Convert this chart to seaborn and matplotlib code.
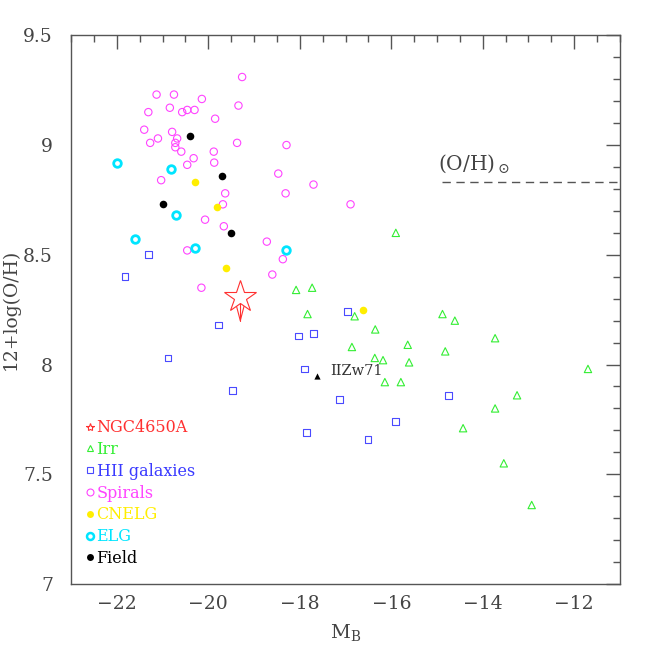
import numpy as np
import pandas as pd
import matplotlib
matplotlib.use("Agg")
import matplotlib.pyplot as plt
from matplotlib.lines import Line2D
from matplotlib.ticker import MultipleLocator
import seaborn as sns

sns.set_theme(style="white")
plt.rcParams["font.family"] = ["DejaVu Serif"]
plt.rcParams["mathtext.fontset"] = "dejavuserif"

# ---- data (M_B, 12+log(O/H)) ----
spiral_mb = [-19.26, -21.13, -20.75, -20.14, -21.31, -20.84, -20.57, -20.46, -20.30, -19.34,
             -19.85, -21.40, -20.79, -21.10, -21.27, -20.68, -20.72, -20.72, -20.59, -19.37,
             -19.88, -18.29, -20.32, -19.87, -20.46, -21.03, -18.47, -19.63, -18.31, -19.68,
             -17.70, -16.89, -20.07, -19.66, -18.72, -20.46, -18.37, -18.60, -20.15]
spiral_oh = [9.31, 9.23, 9.23, 9.21, 9.15, 9.17, 9.15, 9.16, 9.16, 9.18,
             9.12, 9.07, 9.06, 9.03, 9.01, 9.03, 9.01, 8.99, 8.97, 9.01,
             8.97, 9.00, 8.94, 8.92, 8.91, 8.84, 8.87, 8.78, 8.78, 8.73,
             8.82, 8.73, 8.66, 8.63, 8.56, 8.52, 8.48, 8.41, 8.35]

field_mb = [-20.41, -19.70, -21.00, -19.50]
field_oh = [9.04, 8.86, 8.73, 8.60]

elg_mb = [-22.00, -20.81, -20.70, -21.60, -20.30, -18.31]
elg_oh = [8.92, 8.89, 8.68, 8.57, 8.53, 8.52]

cnelg_mb = [-20.30, -19.82, -19.61, -16.62]
cnelg_oh = [8.83, 8.72, 8.44, 8.25]

hii_mb = [-21.82, -21.30, -19.78, -20.88, -19.47, -18.02, -17.70, -16.95, -17.90, -17.14,
          -17.86, -16.51, -15.90, -14.75]
hii_oh = [8.40, 8.50, 8.18, 8.03, 7.88, 8.13, 8.14, 8.24, 7.98, 7.84,
          7.69, 7.66, 7.74, 7.86]

irr_mb = [-18.08, -17.73, -17.83, -16.80, -16.35, -16.86, -16.36, -16.18, -16.14, -15.79,
          -15.90, -15.64, -15.61, -14.88, -14.61, -14.82, -13.73, -13.25, -13.73, -14.43,
          -13.54, -12.93, -11.70]
irr_oh = [8.34, 8.35, 8.23, 8.22, 8.16, 8.08, 8.03, 8.02, 7.92, 7.92,
          8.60, 8.09, 8.01, 8.23, 8.20, 8.06, 8.12, 7.86, 7.80, 7.71,
          7.55, 7.36, 7.98]

ngc_mb, ngc_oh = -19.30, 8.31
ngc_arrow_to = 8.20
iizw_mb, iizw_oh = -17.62, 7.95
solar_oh = 8.83
solar_from = -14.9

c_red, c_green, c_blue = "#ff3030", "#33ee33", "#4a4aff"
c_mag, c_yel, c_cyan = "#ff44ff", "#ffee00", "#00e5ff"
c_axis = "#555555"

fig, ax = plt.subplots(figsize=(6.54, 6.54), dpi=100)
fig.subplots_adjust(left=0.1086, right=0.948, bottom=0.107, top=0.946)

sns.scatterplot(x=spiral_mb, y=spiral_oh, ax=ax, marker="o", s=28,
                facecolors="none", edgecolor=c_mag, linewidth=0.8)
sns.scatterplot(x=hii_mb, y=hii_oh, ax=ax, marker="s", s=24,
                facecolors="none", edgecolor=c_blue, linewidth=0.8)
sns.scatterplot(x=irr_mb, y=irr_oh, ax=ax, marker="^", s=28,
                facecolors="none", edgecolor=c_green, linewidth=0.8)
sns.scatterplot(x=elg_mb, y=elg_oh, ax=ax, marker="o", s=30,
                facecolors="white", edgecolor=c_cyan, linewidth=2.0)
sns.scatterplot(x=cnelg_mb, y=cnelg_oh, ax=ax, marker="o", s=30,
                color=c_yel, edgecolor=c_yel, linewidth=0)
sns.scatterplot(x=field_mb, y=field_oh, ax=ax, marker="o", s=30,
                color="black", edgecolor="black", linewidth=0)
sns.scatterplot(x=[iizw_mb], y=[iizw_oh], ax=ax, marker="^", s=20,
                color="black", edgecolor="black", linewidth=0)
ax.text(iizw_mb + 0.28, iizw_oh + 0.02, "IIZw71", fontsize=10.5, color="#333333",
        va="center", ha="left")

# NGC4650A star with downward limit arrow
ax.plot([ngc_mb, ngc_mb], [ngc_oh, ngc_arrow_to], color=c_red, lw=0.8)
ax.plot([ngc_mb - 0.1, ngc_mb, ngc_mb + 0.1], [ngc_oh - 0.03, ngc_arrow_to, ngc_oh - 0.03],
        color=c_red, lw=0.8)
ax.plot([ngc_mb], [ngc_oh], marker="*", markersize=24, markerfacecolor="white",
        markeredgecolor=c_red, markeredgewidth=0.8, linestyle="none")

# solar value
ax.plot([solar_from, -11], [solar_oh, solar_oh], color=c_axis, lw=1.0,
        linestyle=(0, (6, 4)))
ax.text(solar_from - 0.08, solar_oh + 0.085, r"(O/H)$_\odot$", fontsize=14.5,
        color="#444444", va="center", ha="left")

ax.set_xlim(-23, -11)
ax.set_ylim(7, 9.5)
ax.xaxis.set_minor_locator(MultipleLocator(0.5))
ax.yaxis.set_minor_locator(MultipleLocator(0.1))
ax.set_xticks(np.arange(-22, -11, 2))
ax.set_xticklabels([f"\u2212{abs(v)}" for v in range(-22, -11, 2)])
ax.set_yticks([7, 7.5, 8, 8.5, 9, 9.5])
ax.set_yticklabels(["7", "7.5", "8", "8.5", "9", "9.5"])
ax.tick_params(which="both", direction="in", top=True, right=True,
               colors=c_axis, labelcolor="#444444", labelsize=13.5)
ax.tick_params(which="major", length=10, width=1)
ax.tick_params(which="minor", length=5, width=1)
ax.tick_params(axis="x", which="major", pad=8)
ax.tick_params(axis="y", which="major", pad=13)
for sp in ax.spines.values():
    sp.set_color(c_axis)
    sp.set_linewidth(1.0)

ax.set_xlabel(r"M$_{\rm B}$", fontsize=14, color="#444444")
ax.set_ylabel("12+log(O/H)", fontsize=13.5, color="#444444")
ax.xaxis.set_label_coords(0.5, -0.069)
ax.yaxis.set_label_coords(-0.093, 0.5)

handles = [
    Line2D([], [], marker="*", ls="none", ms=6, mfc="none", mec=c_red, mew=0.8),
    Line2D([], [], marker="^", ls="none", ms=5, mfc="none", mec=c_green, mew=0.8),
    Line2D([], [], marker="s", ls="none", ms=5, mfc="none", mec=c_blue, mew=0.8),
    Line2D([], [], marker="o", ls="none", ms=5, mfc="none", mec=c_mag, mew=0.8),
    Line2D([], [], marker="o", ls="none", ms=5, mfc=c_yel, mec=c_yel, mew=0),
    Line2D([], [], marker="o", ls="none", ms=5, mfc="white", mec=c_cyan, mew=1.8),
    Line2D([], [], marker="o", ls="none", ms=5, mfc="black", mec="black", mew=0),
]
labels = ["NGC4650A", "Irr", "HII galaxies", "Spirals", "CNELG", "ELG", "Field"]
label_colors = [c_red, c_green, "#3a3aff", c_mag, c_yel, c_cyan, "black"]
ax.legend(handles, labels, loc="lower left", bbox_to_anchor=(0.0, 0.005),
          frameon=False, fontsize=11.5, labelcolor=label_colors,
          handlelength=0.6, handletextpad=0.1, labelspacing=0.3, borderaxespad=0.5)

fig.savefig("out.png", dpi=100)
